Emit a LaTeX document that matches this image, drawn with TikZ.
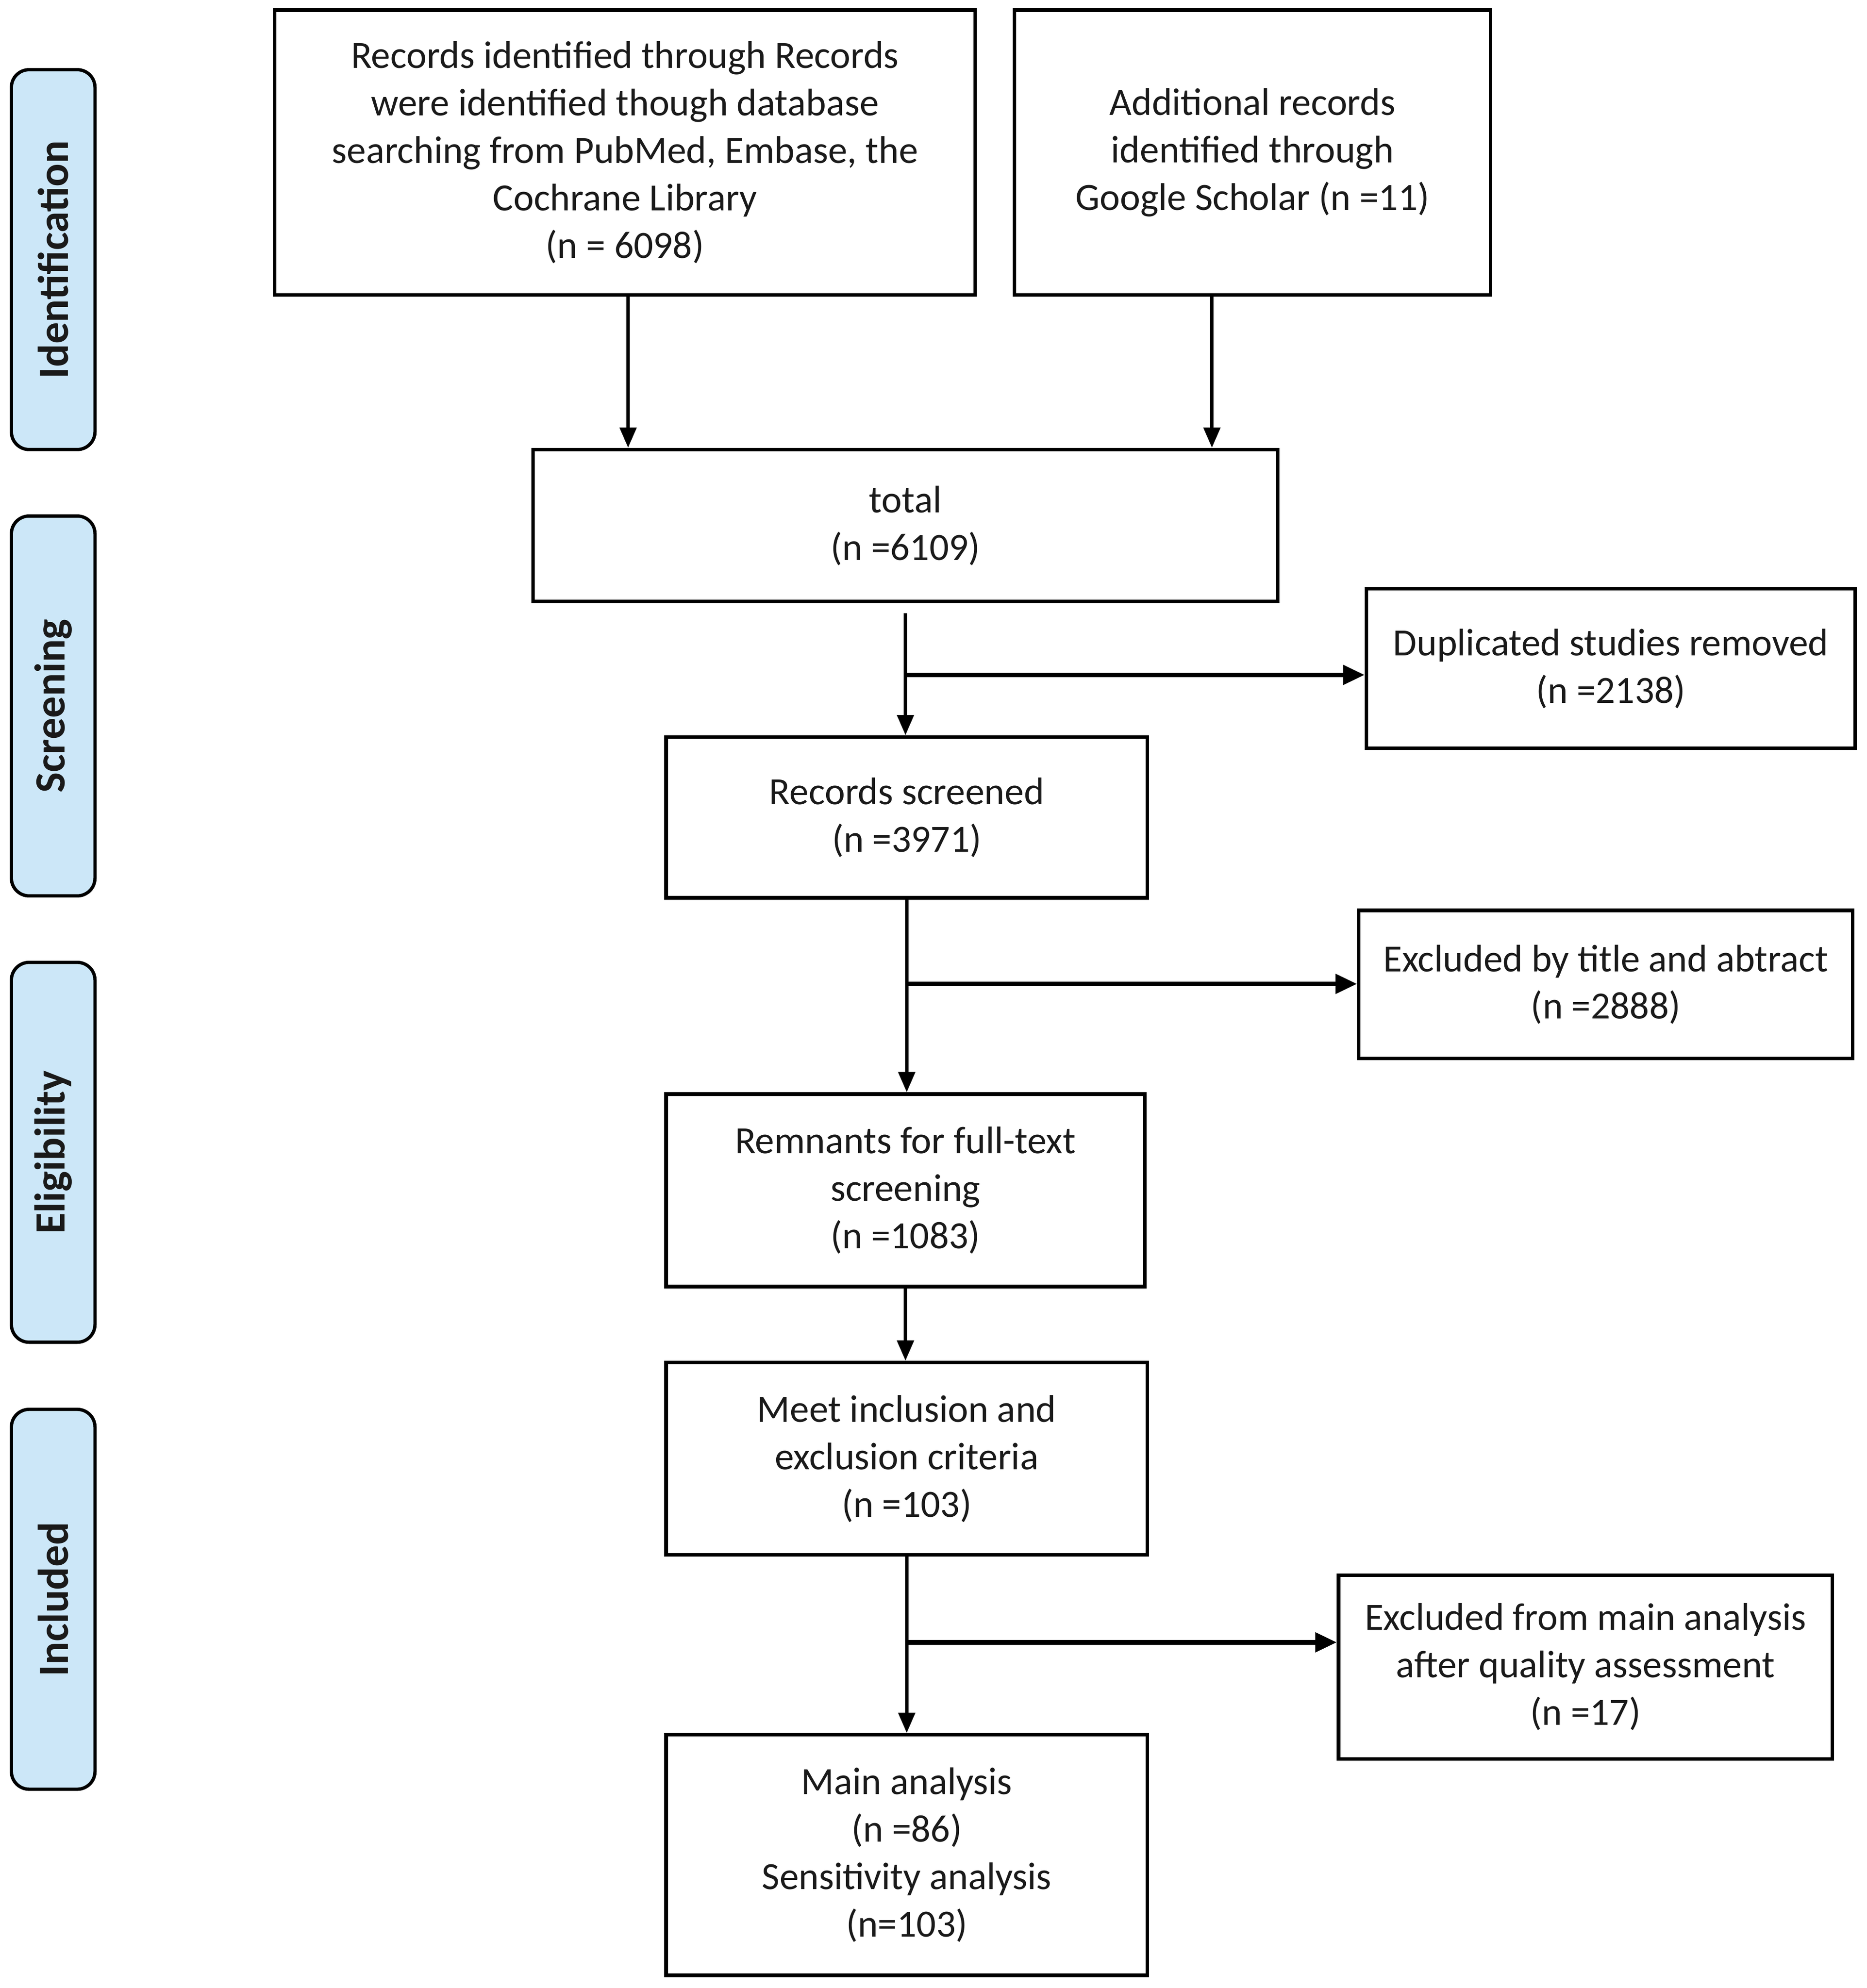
\documentclass[tikz,border=0pt]{standalone}
\usepackage{fontspec}
\setmainfont{Carlito}
\usetikzlibrary{arrows.meta,calc}
\definecolor{sidefill}{HTML}{CCE7F8}
\definecolor{txt}{HTML}{1A1A1A}
\tikzset{
  box/.style={draw=black, line width=1.4pt, inner sep=2pt, align=center, text=txt,
    font=\fontsize{15.2}{18.75}\selectfont},
  side/.style={draw=black, line width=1.3pt, fill=sidefill, rounded corners=7pt,
    minimum width=33pt, minimum height=150pt, inner sep=0pt},
  sidetext/.style={rotate=90, font=\bfseries\fontsize{17}{20}\selectfont, text=txt},
  arr/.style={line width=1.35pt, -{Triangle[length=8pt,width=6.5pt]}},
  arrb/.style={line width=1.8pt, -{Triangle[length=8.5pt,width=7.5pt]}}
}
\begin{document}
\begin{tikzpicture}[x=0.5pt,y=-0.5pt]
\useasboundingbox (0,0) rectangle (1474,1570);
% side labels
\node[side] (s1) at (42,205) {};
\node[sidetext] (s1t) at (s1.center) {Identification};
\node[side] (s2) at (42,557.5) {};
\node[sidetext] (s2t) at (s2.center) {Screening};
\node[side] (s3) at (42,910) {};
\node[sidetext] (s3t) at (s3.center) {Eligibility};
\node[side] (s4) at (42,1263) {};
\node[sidetext] (s4t) at (s4.center) {Included};
% boxes
\node[box, minimum width=276.5pt, minimum height=112.5pt] (A) at (493.5,120.5)
  {Records identified through Records\\were identified though database\\searching from PubMed, Embase, the\\Cochrane Library\\(n = 6098)};
\node[box, minimum width=188pt, minimum height=112.5pt] (B) at (989,120.5)
  {Additional records\\identified through\\Google Scholar (n =11)};
\node[box, minimum width=294pt, minimum height=60pt] (total) at (715,415)
  {total\\(n =6109)};
\node[box, minimum width=193pt, minimum height=63pt] (dup) at (1272,528)
  {Duplicated studies removed\\(n =2138)};
\node[box, minimum width=190pt, minimum height=63.5pt] (scr) at (716,645.5)
  {Records screened\\(n =3971)};
\node[box, minimum width=195pt, minimum height=58.5pt] (exT) at (1268,777.5)
  {Excluded by title and abtract\\(n =2888)};
\node[box, minimum width=189pt, minimum height=76pt] (rem) at (715,940)
  {Remnants for full-text\\screening\\(n =1083)};
\node[box, minimum width=190pt, minimum height=76pt] (meet) at (716,1152)
  {Meet inclusion and\\exclusion criteria\\(n =103)};
\node[box, minimum width=195pt, minimum height=72.5pt] (exM) at (1252,1316.5)
  {Excluded from main analysis\\after quality assessment\\(n =17)};
\node[box, minimum width=190pt, minimum height=95pt] (main) at (716,1465)
  {Main analysis\\(n =86)\\Sensitivity analysis\\(n=103)};
% connectors
\draw[arr] ([xshift=1.25pt]A.south) -- ([xshift=1.25pt]A.south |- total.north);
\draw[arr] ([xshift=-16pt]B.south) -- ([xshift=-16pt]B.south |- total.north);
\coordinate (j1) at (715,533);
\draw[arr] ([yshift=-4pt]total.south) -- (total.south |- scr.north);
\draw[arrb] (j1) -- (j1 -| dup.west);
\coordinate (j2) at (716,777);
\draw[arr] (scr.south) -- (scr.south |- rem.north);
\draw[arrb] (j2) -- (j2 -| exT.west);
\draw[arr] (rem.south) -- (rem.south |- meet.north);
\coordinate (j3) at (716,1297);
\draw[arr] (meet.south) -- (meet.south |- main.north);
\draw[arrb] (j3) -- (j3 -| exM.west);
\end{tikzpicture}
\end{document}
